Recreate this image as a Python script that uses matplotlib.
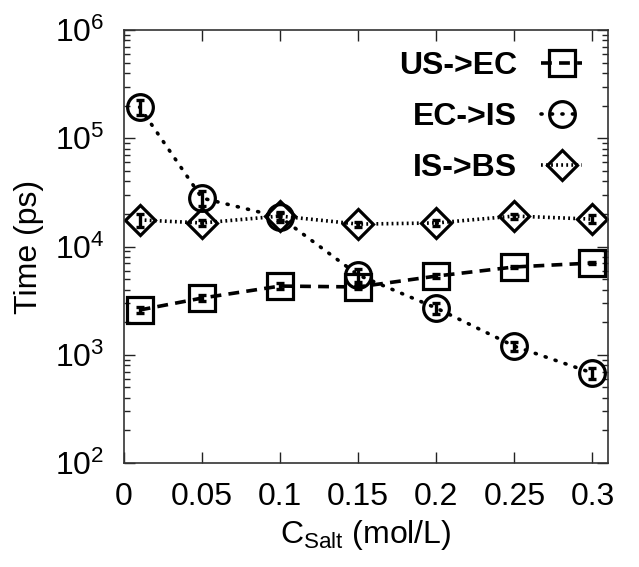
import matplotlib
matplotlib.use("Agg")
import matplotlib.pyplot as plt
from matplotlib.ticker import LogLocator, NullFormatter, FixedLocator

plt.rcParams['font.family'] = ['Liberation Sans', 'DejaVu Sans']
plt.rcParams['mathtext.fontset'] = 'custom'
plt.rcParams['mathtext.rm'] = 'Liberation Sans'
plt.rcParams['mathtext.it'] = 'Liberation Sans'
plt.rcParams['mathtext.default'] = 'regular'

c_salt = [0.01, 0.05, 0.10, 0.15, 0.20, 0.25, 0.30]
us_ec = [2590, 3340, 4310, 4230, 5330, 6470, 7040]
us_ec_err = [150, 200, 300, 200, 250, 200, 200]
ec_is = [194000, 28000, 18700, 5450, 2700, 1200, 678]
ec_is_err = [30000, 4500, 2000, 800, 300, 120, 80]
is_bs = [17600, 16500, 19100, 16100, 16500, 19100, 17900]
is_bs_err = [2500, 1000, 1500, 800, 1000, 1000, 1500]
labels = ['US->EC', 'EC->IS', 'IS->BS']
x_ticks = [0, 0.05, 0.1, 0.15, 0.2, 0.25, 0.3]
x_tick_labels = ['0', '0.05', '0.1', '0.15', '0.2', '0.25', '0.3']

fig = plt.figure(figsize=(6.39, 5.67), dpi=100)
ax = fig.add_axes([124/639, 1-463/567, (608-124)/639, (463-30)/567])

col = 'black'
series = [
    (us_ec, us_ec_err, 's', (0, (3.0, 2.0)), 19, 'butt'),
    (ec_is, ec_is_err, 'o', (0, (0.3, 2.6)), 18.5, 'round'),
    (is_bs, is_bs_err, 'D', (0, (0.5, 0.9)), 15, 'butt'),
]
handles = []
for (vals, errs, mk, ls, ms, cap), lab in zip(series, labels):
    h, = ax.plot(c_salt, vals, linestyle=ls, color=col, lw=2.6,
                 marker=mk, markersize=ms, markerfacecolor='none',
                 markeredgecolor=col, markeredgewidth=2.3, label=lab,
                 dash_capstyle=cap)
    ax.errorbar(c_salt, vals, yerr=errs, fmt='none', ecolor=col,
                elinewidth=2.4, capsize=3, capthick=2.4)
    handles.append(h)

ax.set_yscale('log')
ax.set_ylim(1e2, 1e6)
ax.set_xlim(0, 0.31)
ax.xaxis.set_major_locator(FixedLocator(x_ticks))
ax.set_xticklabels(x_tick_labels)
ax.yaxis.set_major_locator(LogLocator(base=10, numticks=10))
ax.yaxis.set_minor_locator(LogLocator(base=10, subs=range(2, 10), numticks=20))
ax.yaxis.set_minor_formatter(NullFormatter())

ax.tick_params(which='both', direction='in', top=True, right=True,
               labelsize=23, colors='#222222', labelcolor='black')
ax.tick_params(which='major', length=8, width=1)
ax.tick_params(which='minor', length=4, width=1)
ax.tick_params(axis='x', pad=14)
ax.tick_params(axis='y', pad=14)
for s in ax.spines.values():
    s.set_linewidth(1.2)
    s.set_color('#333333')

ax.set_xlabel('C$_{Salt}$ (mol/L)', fontsize=23, labelpad=4)
ax.set_ylabel('Time (ps)', fontsize=23, labelpad=8)

leg = ax.legend(handles=handles, loc='upper right', frameon=False,
                markerfirst=False, prop={'weight': 'bold', 'size': 23},
                handlelength=1.3, handletextpad=0.75, labelspacing=0.66,
                borderaxespad=0.4, bbox_to_anchor=(1.0, 1.01))

fig.savefig('out.png', dpi=100)
